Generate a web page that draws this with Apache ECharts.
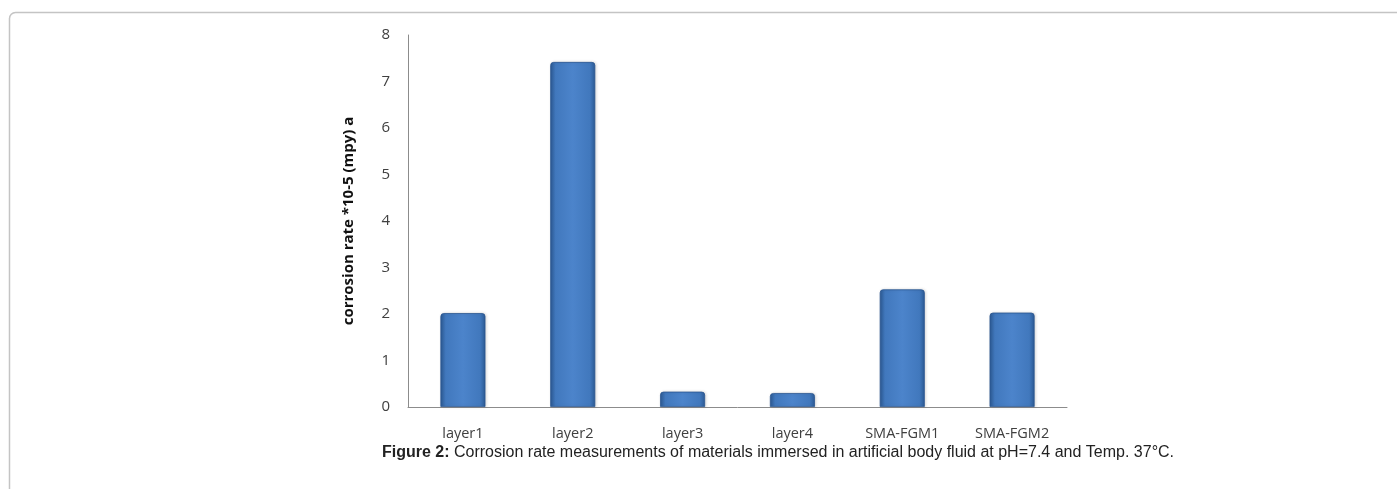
<!DOCTYPE html>
<html>
<head>
<meta charset="utf-8">
<script src="https://cdn.jsdelivr.net/npm/echarts@6/dist/echarts.min.js"></script>
<style>
html,body{margin:0;padding:0;background:#fff;}
#chart{width:1397px;height:489px;}
</style>
</head>
<body>
<div id="chart"></div>
<script>
const categories = ['layer1', 'layer2', 'layer3', 'layer4', 'SMA-FGM1', 'SMA-FGM2'];
const corrosionRate = [2.02, 7.42, 0.33, 0.30, 2.53, 2.03];
const yTicks = [0, 1, 2, 3, 4, 5, 6, 7, 8];
const yAxisName = 'corrosion rate *10-5 (mpy) a';
const captionBold = 'Figure 2:';
const captionText = ' Corrosion rate measurements of materials immersed in artificial body fluid at pH=7.4 and Temp. 37°C.';

const chart = echarts.init(document.getElementById('chart'), null, {renderer: 'canvas'});
const barColor = new echarts.graphic.LinearGradient(0, 0, 1, 0, [
  {offset: 0, color: '#2c5a94'},
  {offset: 0.12, color: '#4178bd'},
  {offset: 0.5, color: '#4c84cb'},
  {offset: 0.88, color: '#4178bd'},
  {offset: 1, color: '#2c5a94'}
]);
const labelFont = 'Open Sans, DejaVu Sans, sans-serif';
chart.setOption({
  animation: false,
  backgroundColor: '#ffffff',
  graphic: [
    {
      type: 'rect',
      shape: {x: 9.5, y: 12.5, width: 1500, height: 600, r: 6},
      style: {fill: 'none', stroke: '#c4c4c4', lineWidth: 1.5},
      silent: true
    },
    {
      type: 'text',
      left: 382,
      top: 445,
      style: {
        text: '{b|' + captionBold + '}{n|' + captionText + '}',
        rich: {
          b: {fontFamily: 'Liberation Sans, Arial, sans-serif', fontSize: 16, fontWeight: 'bold', fill: '#222'},
          n: {fontFamily: 'Liberation Sans, Arial, sans-serif', fontSize: 16, fill: '#222'}
        }
      }
    }
  ],
  grid: {left: 408, top: 35, right: 330, bottom: 82, containLabel: false},
  xAxis: {
    type: 'category',
    data: categories,
    axisLine: {lineStyle: {color: '#8c8c8c', width: 1}},
    axisTick: {show: false},
    axisLabel: {color: '#404040', fontSize: 14.5, fontFamily: labelFont, margin: 19}
  },
  yAxis: {
    type: 'value',
    min: yTicks[0],
    max: yTicks[yTicks.length - 1],
    interval: 1,
    name: yAxisName,
    nameLocation: 'middle',
    nameGap: 52,
    nameTextStyle: {color: '#111', fontSize: 15, fontWeight: 'bold', fontFamily: labelFont},
    axisLine: {show: true, lineStyle: {color: '#8c8c8c', width: 1}},
    axisTick: {show: false},
    splitLine: {show: false},
    axisLabel: {color: '#404040', fontSize: 15, fontFamily: labelFont, margin: 18}
  },
  series: [{
    type: 'bar',
    data: corrosionRate,
    barWidth: '41%',
    itemStyle: {color: barColor, borderColor: '#2a5590', borderWidth: 0.8, borderRadius: [3, 3, 0, 0],
      shadowColor: 'rgba(0,0,0,0.15)', shadowBlur: 3, shadowOffsetX: 1}
  }]
});
</script>
</body>
</html>
